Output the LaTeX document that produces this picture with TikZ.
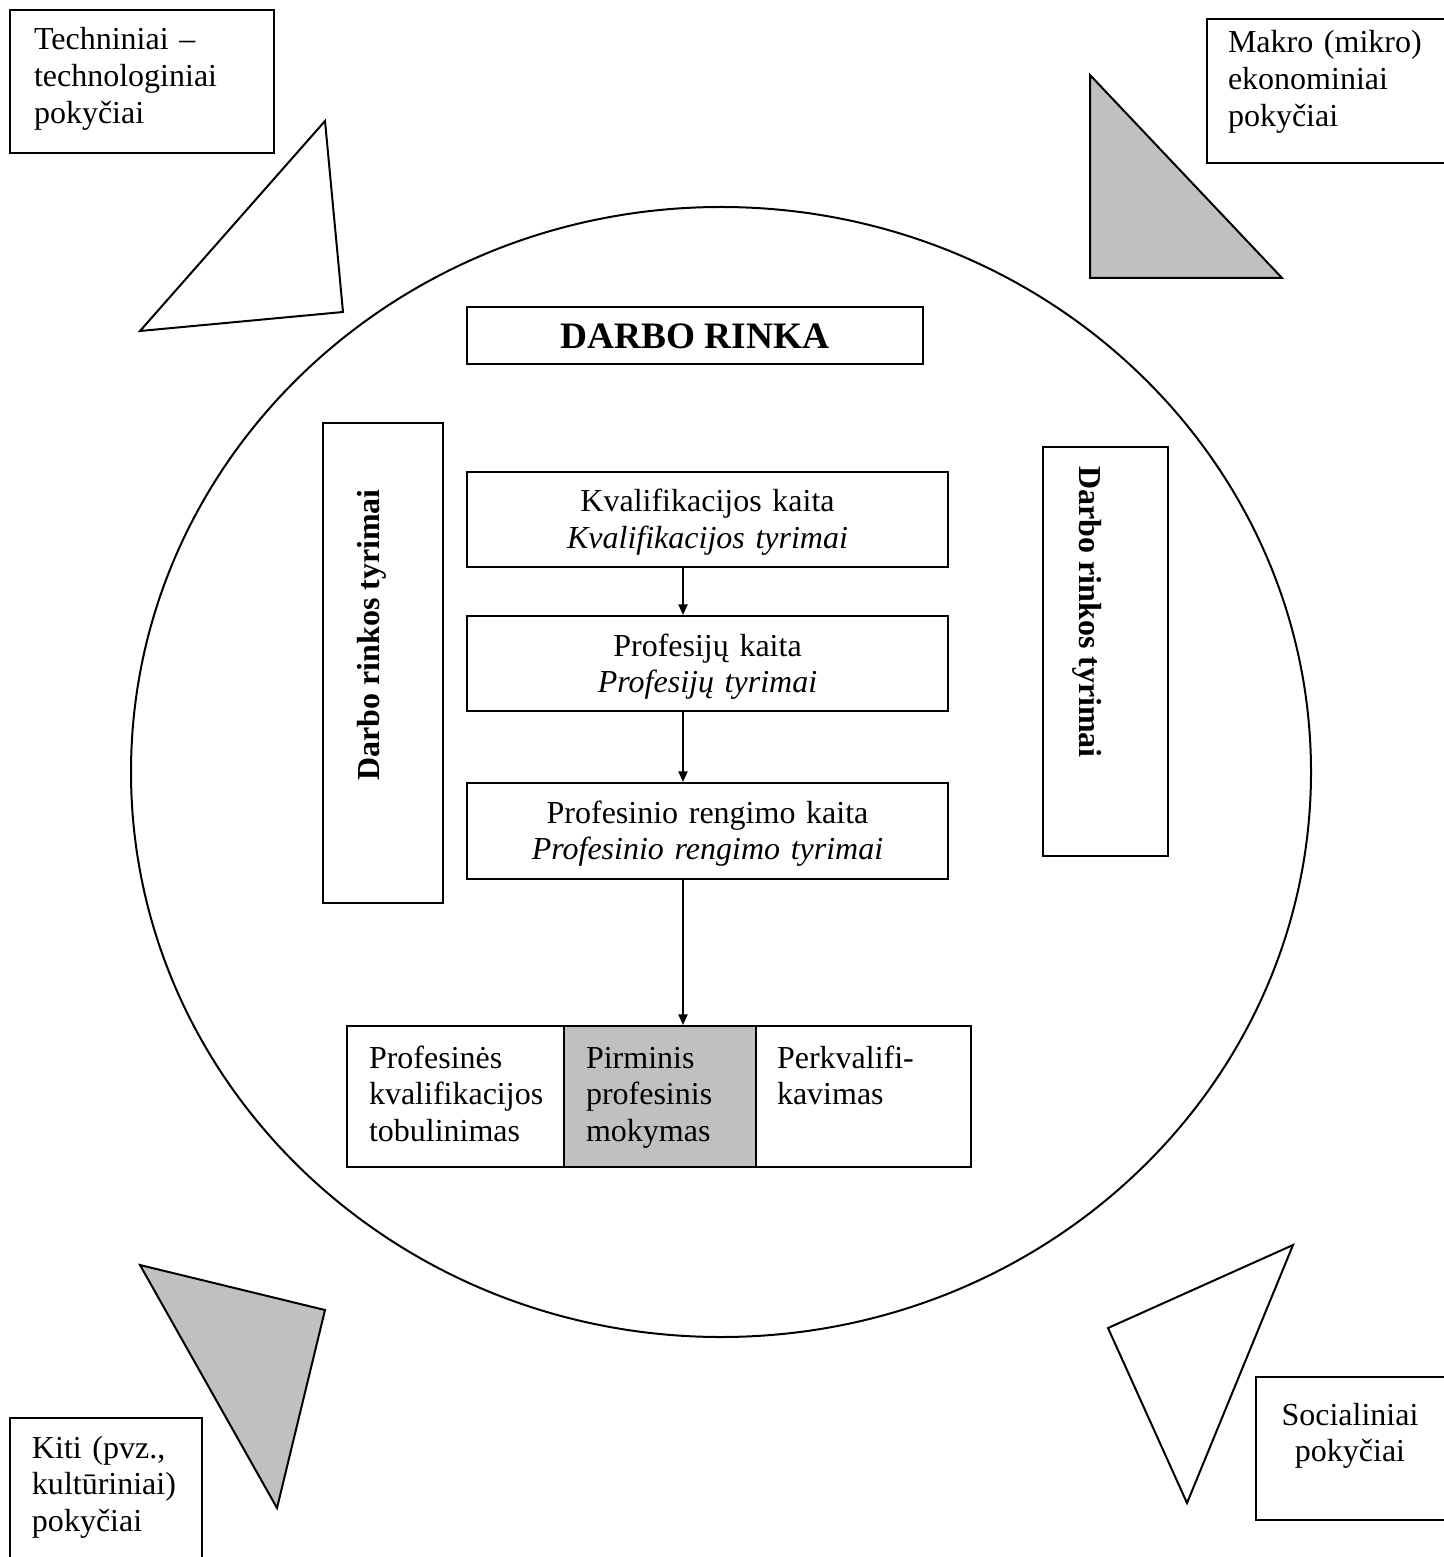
\documentclass[tikz,border=0pt]{standalone}
\usepackage{fontspec}
\setmainfont{Liberation Serif}
\usetikzlibrary{arrows.meta,fit}
\definecolor{shade}{RGB}{192,192,192}
\begin{document}
\begin{tikzpicture}[x=0.375pt,y=-0.375pt,line width=0.75pt,
  frame/.style={draw,inner sep=0pt},
  txt/.style={font=\fontsize{12}{13.8}\selectfont,inner sep=0pt,text width=#1,align=left,anchor=base west},
  ctxt/.style={font=\fontsize{12}{13.8}\selectfont,inner sep=0pt,text width=#1,align=center,anchor=base},
  arr/.style={-{Triangle[length=4pt,width=3.4pt]}},
  tri/.style={draw,line join=miter}]
\useasboundingbox (0,0) rectangle (1443,1557);

% outer circle
\draw (721,772) ellipse [x radius=590, y radius=565];

% corner boxes
\node[frame,fit={(10,10) (274,153)}] (tlbox) {};
\node[txt=240] (tltext) at (33,50) {Techniniai –\\technologiniai\\pokyčiai};

\node[frame,fit={(1207,19) (1450,163)}] (trbox) {};
\node[txt=230] (trtext) at (1227,53) {Makro (mikro)\\ekonominiai\\pokyčiai};

\node[frame,fit={(10,1418) (202,1570)}] (blbox) {};
\node[txt=180] (bltext) at (31,1458) {Kiti (pvz.,\\kultūriniai)\\pokyčiai};

\node[frame,fit={(1256,1377) (1450,1520)}] (brbox) {};
\node[ctxt=180] (brtext) at (1350,1425) {Socialiniai\\pokyčiai};

% triangles
\draw[tri,fill=white] (325,121) -- (343,312) -- (140,331) -- cycle;
\draw[tri,fill=shade] (1090,75) -- (1090,278) -- (1282,278) -- cycle;
\draw[tri,fill=shade] (140,1265) -- (325,1310) -- (277,1508) -- cycle;
\draw[tri,fill=white] (1293,1245) -- (1108,1328) -- (1187,1503) -- cycle;

% title
\node[frame,fit={(467,307) (923,364)}] (title) {};
\node[font=\fontsize{14}{16}\selectfont\bfseries,inner sep=0pt,anchor=base] (titletext) at (695,349) {DARBO RINKA};

% side boxes
\node[frame,fit={(323,423) (443,903)}] (lside) {};
\node[rotate=90,font=\fontsize{12}{13.8}\selectfont\bfseries,inner sep=0pt] (ltext) at (372,635) {Darbo rinkos tyrimai};
\node[frame,fit={(1043,447) (1168,856)}] (rside) {};
\node[rotate=-90,font=\fontsize{12}{13.8}\selectfont\bfseries,inner sep=0pt] (rtext) at (1087,612) {Darbo rinkos tyrimai};

% flow boxes
\node[frame,fit={(467,472) (948,567)}] (kval) {};
\node[ctxt=470] (kvaltext) at (707.5,512) {Kvalifikacijos kaita\\\textit{Kvalifikacijos tyrimai}};
\node[frame,fit={(467,616) (948,711)}] (prof) {};
\node[ctxt=470] (proftext) at (707.5,656) {Profesijų kaita\\\textit{Profesijų tyrimai}};
\node[frame,fit={(467,783) (948,879)}] (reng) {};
\node[ctxt=470] (rengtext) at (707.5,823) {Profesinio rengimo kaita\\\textit{Profesinio rengimo tyrimai}};

% bottom row
\node[frame,fit={(347,1026) (564,1167)}] (c1) {};
\node[frame,fill=shade,fit={(564,1026) (756,1167)}] (c2) {};
\node[frame,fit={(756,1026) (971,1167)}] (c3) {};
\node[txt=190] (c1text) at (368,1068) {Profesinės\\kvalifikacijos\\tobulinimas};
\node[txt=170] (c2text) at (585,1068) {Pirminis\\profesinis\\mokymas};
\node[txt=190] (c3text) at (776,1068) {Perkvalifi-\\kavimas};

% arrows
\coordinate (ax) at (683,0);
\draw[arr] (kval.south -| ax) -- (prof.north -| ax);
\draw[arr] (prof.south -| ax) -- (reng.north -| ax);
\draw[arr] (reng.south -| ax) -- (c2.north -| ax);
\end{tikzpicture}
\end{document}
